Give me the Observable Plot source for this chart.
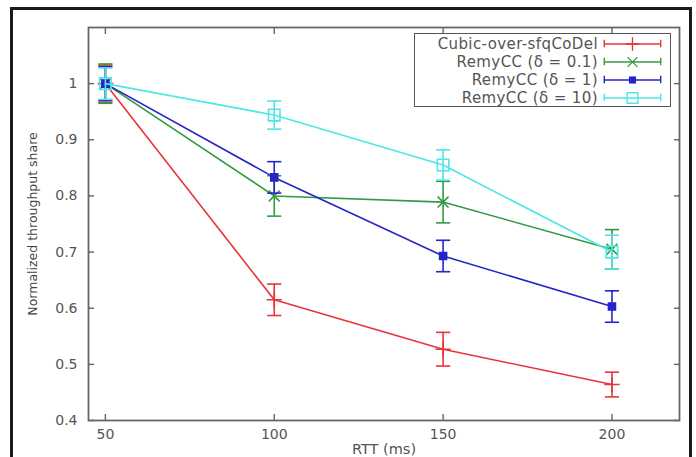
<!DOCTYPE html>
<html>
<head>
<meta charset="utf-8">
<script src="https://cdn.jsdelivr.net/npm/d3@7"></script>
<script src="https://cdn.jsdelivr.net/npm/@observablehq/plot@0.6"></script>
<style>
  html, body { margin: 0; padding: 0; background: #fff; }
  #wrap { position: relative; width: 696px; height: 457px; overflow: hidden; font-family: "DejaVu Sans", sans-serif; }
  #outer { position: absolute; left: 10px; top: 7px; width: 676px; height: 470px; border: 3px solid #1a1a1a; pointer-events: none; }
  #legend { position: absolute; left: 414px; top: 33px; width: 255px; height: 72px; border: 1.5px solid #555; background: #fff; }
  .row { position: absolute; right: 8px; height: 15px; display: flex; align-items: center; }
  .row span { font-size: 15px; letter-spacing: 0.4px; color: #555; margin-right: 4px; white-space: nowrap; }
</style>
</head>
<body>
<div id="wrap"><div id="chart"></div><div id="legend"></div><div id="outer"></div></div>
<script>
const rtt = [50, 100, 150, 200];
const seriesNames = ["Cubic-over-sfqCoDel", "RemyCC (δ = 0.1)", "RemyCC (δ = 1)", "RemyCC (δ = 10)"];
const cubicVals = [1.0, 0.615, 0.527, 0.464];
const cubicErr  = [0.033, 0.028, 0.030, 0.022];
const remy01Vals = [1.0, 0.800, 0.789, 0.705];
const remy01Err  = [0.035, 0.036, 0.037, 0.035];
const remy1Vals = [1.0, 0.833, 0.693, 0.603];
const remy1Err  = [0.030, 0.028, 0.028, 0.028];
const remy10Vals = [1.0, 0.944, 0.855, 0.700];
const remy10Err  = [0.028, 0.025, 0.027, 0.030];
const xTicks = [50, 100, 150, 200];
const yTicks = [0.4, 0.5, 0.6, 0.7, 0.8, 0.9, 1];

const colors = ["#e8343c", "#349a42", "#2424c8", "#4fe6e6"];
const symbols = ["plus", "times", "square", "square"];
const allVals = [cubicVals, remy01Vals, remy1Vals, remy10Vals];
const allErr = [cubicErr, remy01Err, remy1Err, remy10Err];

const data = [];
seriesNames.forEach((s, i) => rtt.forEach((x, j) => data.push({series: s, i, x, y: allVals[i][j], lo: allVals[i][j] - allErr[i][j], hi: allVals[i][j] + allErr[i][j]})));

const cap = {draw(ctx, size) { const r = Math.sqrt(size); ctx.moveTo(-r, 0); ctx.lineTo(r, 0); }};

const marks = [];
seriesNames.forEach((s, i) => {
  const d = data.filter(e => e.i === i);
  const c = colors[i];
  marks.push(Plot.line(d, {x: "x", y: "y", stroke: c, strokeWidth: 1.6}));
  marks.push(Plot.ruleX(d, {x: "x", y1: "lo", y2: "hi", stroke: c, strokeWidth: 1.6}));
  marks.push(Plot.dot(d, {x: "x", y: "lo", symbol: cap, r: 4, stroke: c, strokeWidth: 1.6}));
  marks.push(Plot.dot(d, {x: "x", y: "hi", symbol: cap, r: 4, stroke: c, strokeWidth: 1.6}));
  if (i === 2) marks.push(Plot.dot(d, {x: "x", y: "y", symbol: "square", r: 4, fill: c, stroke: c}));
  else if (i === 3) marks.push(Plot.dot(d, {x: "x", y: "y", symbol: "square", r: 6.5, fill: "none", stroke: c, strokeWidth: 1.6}));
  else marks.push(Plot.dot(d, {x: "x", y: "y", symbol: symbols[i], r: 5, stroke: c, strokeWidth: 1.6}));
});

const chart = Plot.plot({
  width: 696, height: 457,
  marginLeft: 88, marginTop: 27, marginRight: 17, marginBottom: 37,
  style: {fontFamily: "DejaVu Sans, sans-serif", color: "#555", background: "#fff"},
  x: {domain: [45, 220], ticks: xTicks},
  y: {domain: [0.4, 1.1], ticks: yTicks},
  marks: [
    Plot.frame({stroke: "#666", strokeWidth: 1.8}),
    Plot.axisX(xTicks, {anchor: "bottom", tickSize: -6, tickPadding: 15, fontSize: 14, label: "RTT (ms)", labelAnchor: "center", labelOffset: 33, labelArrow: "none", stroke: "#666", strokeWidth: 1.4}),
    Plot.axisX(xTicks, {anchor: "top", tickSize: -6, tickFormat: () => "", label: null, stroke: "#666", strokeWidth: 1.4}),
    Plot.axisY(yTicks, {anchor: "left", tickSize: -6, tickPadding: 17, fontSize: 14, tickFormat: d => String(d), label: "Normalized throughput share", labelAnchor: "center", labelOffset: 60, labelArrow: "none", stroke: "#666", strokeWidth: 1.4}),
    Plot.axisY(yTicks, {anchor: "right", tickSize: -6, tickFormat: () => "", label: null, stroke: "#666", strokeWidth: 1.4}),
    ...marks
  ]
});
document.getElementById("chart").appendChild(chart);
d3.select(chart).selectAll("[aria-label='y-axis label'] text").style("font-size", "12.5px").style("fill", "#444");
d3.select(chart).selectAll("[aria-label='x-axis label'] text").style("font-size", "14.5px");

// legend
const legend = document.getElementById("legend");
seriesNames.forEach((s, i) => {
  const row = document.createElement("div");
  row.className = "row";
  row.style.top = (2 + i * 18) + "px";
  const span = document.createElement("span");
  span.textContent = s;
  row.appendChild(span);
  const c = colors[i];
  const sw = Plot.plot({
    width: 60, height: 15, margin: 0, axis: null,
    x: {domain: [0, 1]}, y: {domain: [0, 1]},
    marks: [
      Plot.ruleY([0.5], {x1: 0.03, x2: 0.97, stroke: c, strokeWidth: 1.4}),
      Plot.ruleX([0.03, 0.97], {y1: 0.25, y2: 0.75, stroke: c, strokeWidth: 1.4}),
      i === 2 ? Plot.dot([0.5], {x: d => d, y: 0.5, symbol: "square", r: 4, fill: c}) :
      i === 3 ? Plot.dot([0.5], {x: d => d, y: 0.5, symbol: "square", r: 6, fill: "none", stroke: c, strokeWidth: 1.4}) :
      Plot.dot([0.5], {x: d => d, y: 0.5, symbol: symbols[i], r: 4.5, stroke: c, strokeWidth: 1.4})
    ]
  });
  sw.style.display = "block";
  row.appendChild(sw);
  legend.appendChild(row);
});
</script>
</body>
</html>
